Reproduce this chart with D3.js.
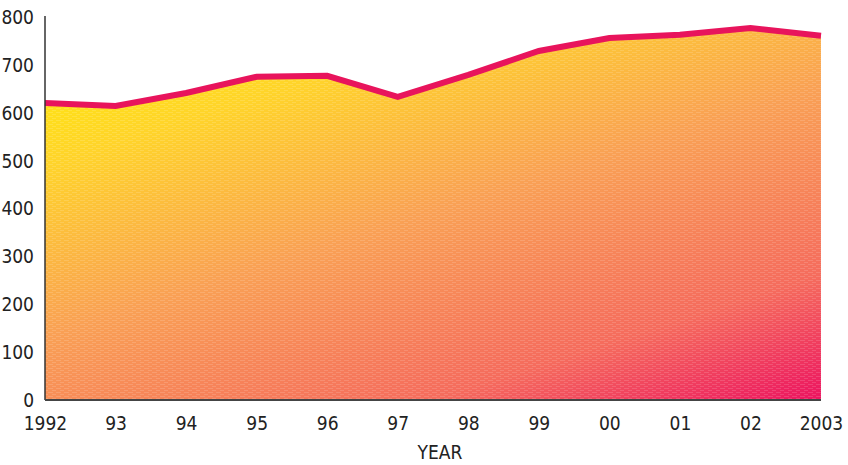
<!DOCTYPE html>
<html>
<head>
<meta charset="utf-8">
<script src="https://cdn.jsdelivr.net/npm/d3@7"></script>
<style>
  body { margin: 0; background: #fff; }
  svg text { font-family: "DejaVu Sans Condensed", "DejaVu Sans", sans-serif; fill: #222; }
</style>
</head>
<body>
<div id="chart"></div>
<script>
// values
var years = ['1992', '93', '94', '95', '96', '97', '98', '99', '00', '01', '02', '2003'];
var values = [621, 615, 642, 676, 678, 634, 680, 730, 757, 764, 778, 762];
var yTicks = [0, 100, 200, 300, 400, 500, 600, 700, 800];

var config = {
    width: 848,
    height: 465,
    left: 45,
    right: 821,
    top: 17.5,
    bottom: 400,
    fontSize: 19,
    lineColor: '#e8145c',
    lineWidth: 6
};

var data = years.map(function(y, i) { return { year: y, value: values[i] }; });

var svg = d3.select('#chart').append('svg')
    .attr('width', config.width)
    .attr('height', config.height);

var defs = svg.append('defs');

// yellow top-left -> orange -> pink bottom-right
var grad = defs.append('linearGradient')
    .attr('id', 'fillGrad')
    .attr('x1', 0).attr('y1', 0)
    .attr('x2', 0.77).attr('y2', 1.15);
grad.append('stop').attr('offset', 0).attr('stop-color', '#fff000');
grad.append('stop').attr('offset', 0.22).attr('stop-color', '#ffd42a');
grad.append('stop').attr('offset', 0.5).attr('stop-color', '#f9a055');
grad.append('stop').attr('offset', 0.8).attr('stop-color', '#f56c5d');
grad.append('stop').attr('offset', 1).attr('stop-color', '#ec1560');

// faint brick-like dash texture
var pat = defs.append('pattern')
    .attr('id', 'dashes')
    .attr('patternUnits', 'userSpaceOnUse')
    .attr('width', 8).attr('height', 4);
pat.append('rect').attr('x', 0).attr('y', 0).attr('width', 5).attr('height', 1)
    .attr('fill', '#fff').attr('fill-opacity', 0.14);
pat.append('rect').attr('x', 4).attr('y', 2).attr('width', 5).attr('height', 1)
    .attr('fill', '#fff').attr('fill-opacity', 0.14);

var x = d3.scalePoint()
    .domain(years)
    .range([config.left, config.right]);

var y = d3.scaleLinear()
    .domain([0, 800])
    .range([config.bottom, config.top]);

var area = d3.area()
    .x(function(d) { return x(d.year); })
    .y0(y(0))
    .y1(function(d) { return y(d.value); });

var line = d3.line()
    .x(function(d) { return x(d.year); })
    .y(function(d) { return y(d.value); });

svg.append('path')
    .datum(data)
    .attr('d', area)
    .attr('fill', 'url(#fillGrad)');

svg.append('path')
    .datum(data)
    .attr('d', area)
    .attr('fill', 'url(#dashes)');

svg.append('path')
    .datum(data)
    .attr('d', line)
    .attr('fill', 'none')
    .attr('stroke', config.lineColor)
    .attr('stroke-width', config.lineWidth)
    .attr('stroke-linejoin', 'miter');

// axes
var yAxis = d3.axisLeft(y)
    .tickValues(yTicks)
    .tickSize(0)
    .tickPadding(11);

var gy = svg.append('g')
    .attr('transform', 'translate(' + config.left + ',0)')
    .call(yAxis);
gy.select('.domain').attr('stroke', '#333').attr('stroke-width', 1.5)
    .attr('d', 'M0,' + (config.top - 1.5) + 'V' + config.bottom);
gy.selectAll('text').attr('font-size', config.fontSize).attr('fill', '#222')
    .attr('font-family', '"DejaVu Sans Condensed", "DejaVu Sans", sans-serif');

var xAxis = d3.axisBottom(x)
    .tickSize(0)
    .tickPadding(17);

var gx = svg.append('g')
    .attr('transform', 'translate(0,' + config.bottom + ')')
    .call(xAxis);
gx.select('.domain').attr('stroke', '#444').attr('stroke-width', 2)
    .attr('d', 'M' + config.left + ',0H' + config.right);
gx.selectAll('text').attr('font-size', config.fontSize).attr('fill', '#222')
    .attr('font-family', '"DejaVu Sans Condensed", "DejaVu Sans", sans-serif');

svg.append('text')
    .attr('x', 440)
    .attr('y', 459)
    .attr('text-anchor', 'middle')
    .attr('font-size', config.fontSize)
    .text('YEAR');
</script>
</body>
</html>
